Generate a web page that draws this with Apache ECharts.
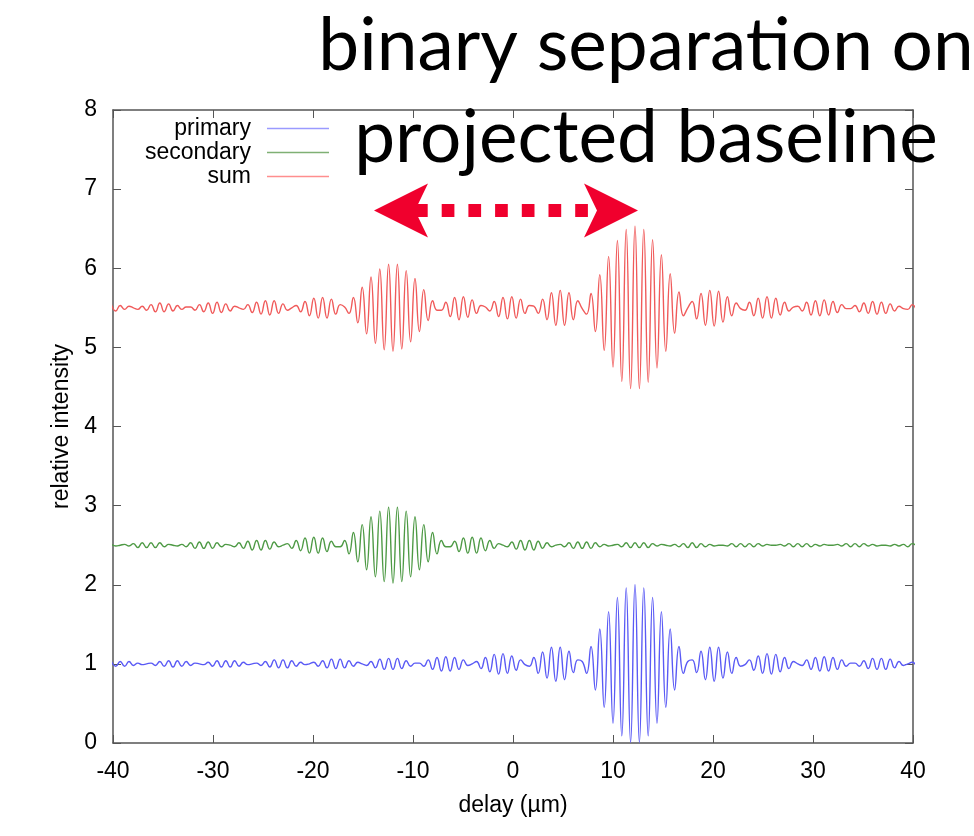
<!DOCTYPE html>
<html>
<head>
<meta charset="utf-8">
<script src="https://cdn.jsdelivr.net/npm/echarts@6/dist/echarts.min.js"></script>
<style>html,body{margin:0;padding:0;background:#fff;}#c{width:974px;height:836px;}</style>
</head>
<body>
<div id="c"></div>
<script>
// delay samples (µm), one per fringe extremum
const delays = [
-40.16,-39.72,-39.28,-38.84,-38.40,-37.96,-37.52,-37.08,-36.64,-36.20,
-35.76,-35.32,-34.88,-34.44,-34.00,-33.56,-33.12,-32.68,-32.24,-31.80,
-31.36,-30.92,-30.48,-30.04,-29.60,-29.16,-28.72,-28.28,-27.84,-27.40,
-26.96,-26.52,-26.08,-25.64,-25.20,-24.76,-24.32,-23.88,-23.44,-23.00,
-22.56,-22.12,-21.68,-21.24,-20.80,-20.36,-19.92,-19.48,-19.04,-18.60,
-18.16,-17.72,-17.28,-16.84,-16.40,-15.96,-15.52,-15.08,-14.64,-14.20,
-13.76,-13.32,-12.88,-12.44,-12.00,-11.56,-11.12,-10.68,-10.24,-9.80,
-9.36,-8.92,-8.48,-8.04,-7.60,-7.16,-6.72,-6.28,-5.84,-5.40,
-4.96,-4.52,-4.08,-3.64,-3.20,-2.76,-2.32,-1.88,-1.44,-1.00,
-0.56,-0.12,0.32,0.76,1.20,1.64,2.08,2.52,2.96,3.40,
3.84,4.28,4.72,5.16,5.60,6.04,6.48,6.92,7.36,7.80,
8.24,8.68,9.12,9.56,10.00,10.44,10.88,11.32,11.76,12.20,
12.64,13.08,13.52,13.96,14.40,14.84,15.28,15.72,16.16,16.60,
17.04,17.48,17.92,18.36,18.80,19.24,19.68,20.12,20.56,21.00,
21.44,21.88,22.32,22.76,23.20,23.64,24.08,24.52,24.96,25.40,
25.84,26.28,26.72,27.16,27.60,28.04,28.48,28.92,29.36,29.80,
30.24,30.68,31.12,31.56,32.00,32.44,32.88,33.32,33.76,34.20,
34.64,35.08,35.52,35.96,36.40,36.84,37.28,37.72,38.16,38.60,
39.04,39.48,39.92,40.36
];

const primary = [
1.03,0.97,1.03,0.97,1.03,0.98,1.01,0.99,1.00,1.01,
0.98,1.03,0.97,1.04,0.96,1.04,0.97,1.03,0.98,1.01,
1.00,0.99,1.02,0.97,1.04,0.96,1.04,0.96,1.04,0.97,
1.02,0.99,1.00,1.01,0.98,1.03,0.96,1.05,0.95,1.05,
0.95,1.04,0.97,1.02,0.99,1.00,1.02,0.97,1.04,0.95,
1.06,0.94,1.06,0.95,1.04,0.97,1.02,1.00,0.98,1.03,
0.95,1.06,0.93,1.07,0.93,1.07,0.94,1.04,0.97,1.01,
1.01,0.97,1.05,0.93,1.08,0.91,1.09,0.91,1.08,0.93,
1.05,0.98,1.00,1.03,0.94,1.08,0.90,1.12,0.87,1.13,
0.88,1.10,0.92,1.05,0.99,0.97,1.08,0.88,1.15,0.82,
1.21,0.78,1.21,0.80,1.16,0.89,1.05,1.03,0.88,1.22,
0.67,1.44,0.45,1.66,0.25,1.84,0.09,1.96,0.01,2.00,
0.01,1.96,0.09,1.84,0.25,1.66,0.45,1.44,0.67,1.22,
0.88,1.03,1.05,0.89,1.16,0.80,1.21,0.78,1.21,0.82,
1.15,0.88,1.08,0.97,0.99,1.05,0.92,1.10,0.88,1.13,
0.87,1.12,0.90,1.08,0.94,1.03,1.00,0.98,1.05,0.93,
1.08,0.91,1.09,0.91,1.08,0.93,1.05,0.97,1.01,1.01,
0.97,1.04,0.94,1.07,0.93,1.07,0.93,1.06,0.95,1.03,
0.98,1.00,1.02,0.97
];

const secondary = [
2.51,2.49,2.50,2.51,2.49,2.52,2.47,2.53,2.47,2.53,
2.47,2.53,2.48,2.51,2.50,2.49,2.51,2.48,2.53,2.46,
2.54,2.46,2.54,2.46,2.53,2.48,2.51,2.50,2.48,2.53,
2.46,2.55,2.44,2.56,2.44,2.56,2.45,2.54,2.48,2.50,
2.52,2.46,2.56,2.43,2.59,2.40,2.60,2.40,2.59,2.42,
2.55,2.48,2.48,2.56,2.39,2.66,2.29,2.76,2.19,2.86,
2.10,2.93,2.04,2.98,2.02,2.98,2.04,2.93,2.10,2.86,
2.19,2.76,2.29,2.66,2.39,2.56,2.48,2.48,2.55,2.42,
2.59,2.40,2.60,2.40,2.59,2.43,2.56,2.46,2.52,2.50,
2.48,2.54,2.45,2.56,2.44,2.56,2.44,2.55,2.46,2.53,
2.48,2.50,2.51,2.48,2.53,2.46,2.54,2.46,2.54,2.46,
2.53,2.48,2.51,2.49,2.50,2.51,2.48,2.53,2.47,2.53,
2.47,2.53,2.47,2.52,2.49,2.51,2.50,2.49,2.51,2.48,
2.52,2.47,2.53,2.47,2.52,2.48,2.51,2.49,2.50,2.50,
2.49,2.52,2.48,2.52,2.48,2.52,2.48,2.52,2.49,2.51,
2.50,2.50,2.51,2.49,2.52,2.48,2.52,2.48,2.52,2.48,
2.51,2.49,2.51,2.50,2.50,2.51,2.49,2.52,2.48,2.52,
2.48,2.52,2.49,2.51,2.49,2.50,2.50,2.49,2.51,2.49,
2.51,2.48,2.52,2.49
];

const sum = [
5.54,5.46,5.53,5.48,5.52,5.50,5.48,5.52,5.47,5.54,
5.45,5.56,5.45,5.55,5.46,5.53,5.48,5.51,5.51,5.47,
5.54,5.45,5.56,5.43,5.57,5.44,5.55,5.46,5.52,5.50,
5.48,5.54,5.44,5.57,5.42,5.59,5.41,5.59,5.43,5.55,
5.47,5.50,5.53,5.45,5.58,5.40,5.62,5.37,5.63,5.37,
5.61,5.42,5.54,5.51,5.43,5.63,5.31,5.76,5.17,5.89,
5.05,5.99,4.97,6.05,4.95,6.05,4.98,5.97,5.07,5.87,
5.20,5.73,5.34,5.59,5.47,5.47,5.57,5.39,5.63,5.35,
5.64,5.38,5.60,5.43,5.53,5.51,5.46,5.58,5.39,5.63,
5.36,5.64,5.37,5.61,5.43,5.53,5.52,5.43,5.61,5.35,
5.69,5.28,5.72,5.28,5.69,5.35,5.59,5.49,5.42,5.68,
5.20,5.92,4.96,6.15,4.75,6.35,4.57,6.49,4.48,6.53,
4.48,6.49,4.56,6.36,4.74,6.17,4.95,5.93,5.18,5.70,
5.40,5.50,5.58,5.36,5.68,5.28,5.72,5.27,5.71,5.32,
5.64,5.40,5.56,5.49,5.47,5.57,5.40,5.62,5.37,5.64,
5.37,5.62,5.41,5.57,5.46,5.51,5.52,5.46,5.57,5.41,
5.59,5.40,5.60,5.41,5.58,5.44,5.54,5.49,5.49,5.53,
5.45,5.56,5.43,5.58,5.42,5.57,5.43,5.55,5.46,5.52,
5.49,5.48,5.54,5.46
];

const seriesNames = ['primary', 'secondary', 'sum'];
const xTicks = [-40, -30, -20, -10, 0, 10, 20, 30, 40];
const yTicks = [0, 1, 2, 3, 4, 5, 6, 7, 8];
const titleLines = ['binary separation on', 'projected baseline'];
const arrowDelays = [-13.9, 12.5];
const arrowLevel = 6.73;

const FONT = 'Liberation Sans';
const FS = 23;
const AX = '#555';
const RED = '#F0002D';
const colors = ['#5a5af5', '#4e9a45', '#f05a5a'];
const legendColors = ['#9a9aff', '#7fb074', '#ff8e8e'];

function pairs(ys) { return delays.map((d, i) => [d, ys[i]]); }

const chart = echarts.init(document.getElementById('c'), null, { renderer: 'canvas' });

function xAxisDef(pos, showLabel) {
  return {
    type: 'value', position: pos, min: xTicks[0], max: xTicks[xTicks.length - 1],
    interval: xTicks[1] - xTicks[0],
    axisLine: { show: true, onZero: false, lineStyle: { color: AX, width: 1.5 } },
    axisTick: { show: true, inside: true, length: 8, lineStyle: { color: AX, width: 1 } },
    axisLabel: { show: showLabel, margin: 17, fontSize: FS, color: '#000', fontFamily: FONT },
    splitLine: { show: false },
    name: showLabel ? 'delay (µm)' : '', nameLocation: 'middle', nameGap: 51,
    nameTextStyle: { fontSize: FS, color: '#000', fontFamily: FONT }
  };
}
function yAxisDef(pos, showLabel) {
  return {
    type: 'value', position: pos, min: yTicks[0], max: yTicks[yTicks.length - 1],
    interval: yTicks[1] - yTicks[0],
    axisLine: { show: true, onZero: false, lineStyle: { color: AX, width: 1.5 } },
    axisTick: { show: true, inside: true, length: 8, lineStyle: { color: AX, width: 1 } },
    axisLabel: { show: showLabel, margin: 16, fontSize: FS, color: '#000', fontFamily: FONT },
    splitLine: { show: false },
    name: showLabel ? 'relative intensity' : '', nameLocation: 'middle', nameGap: 40,
    nameTextStyle: { fontSize: FS, color: '#000', fontFamily: FONT }
  };
}

const data = [primary, secondary, sum];

chart.setOption({
  animation: false,
  backgroundColor: '#fff',
  title: {
    text: titleLines.join('\n'),
    left: 641, top: -5, textAlign: 'center',
    textStyle: { fontFamily: 'Lato', fontSize: 73, fontWeight: 'normal', color: '#000', lineHeight: 92 },
    z: 20
  },
  grid: { left: 113, right: 61, top: 110, bottom: 93, containLabel: false },
  legend: {
    orient: 'vertical', align: 'right', right: 640, top: 112,
    itemWidth: 62, itemHeight: 14, itemGap: 1,
    textStyle: { fontSize: FS, color: '#000', fontFamily: FONT, padding: [0, 11, 0, 0] },
    data: seriesNames.map((n, i) => ({
      name: n, icon: 'path://M0,0L62,0L62,1.3L0,1.3Z',
      itemStyle: { color: legendColors[i] }
    }))
  },
  xAxis: [xAxisDef('bottom', true), xAxisDef('top', false)],
  yAxis: [yAxisDef('left', true), yAxisDef('right', false)],
  series: seriesNames.map((n, i) => ({
    name: n, type: 'line', xAxisIndex: 0, yAxisIndex: 0,
    data: pairs(data[i]), smooth: 0.5, symbol: 'none', showSymbol: false,
    sampling: null, clip: true,
    lineStyle: { color: colors[i], width: 1.4 }, itemStyle: { color: colors[i] }
  }))
});

const L = chart.convertToPixel({ xAxisIndex: 0, yAxisIndex: 0 }, [arrowDelays[0], arrowLevel]);
const R = chart.convertToPixel({ xAxisIndex: 0, yAxisIndex: 0 }, [arrowDelays[1], arrowLevel]);
const HL = 54, HW = 27, NOTCH = 41;
chart.setOption({
  graphic: [
    { type: 'line', z: 30, shape: { x1: L[0] + NOTCH, y1: L[1], x2: R[0] - NOTCH, y2: R[1] },
      style: { stroke: RED, lineWidth: 13, lineDash: [12.7, 14], lineCap: 'butt' } },
    { type: 'polygon', z: 31, shape: { points: [[L[0], L[1]], [L[0] + HL, L[1] - HW], [L[0] + NOTCH, L[1]], [L[0] + HL, L[1] + HW]] },
      style: { fill: RED } },
    { type: 'polygon', z: 31, shape: { points: [[R[0], R[1]], [R[0] - HL, R[1] - HW], [R[0] - NOTCH, R[1]], [R[0] - HL, R[1] + HW]] },
      style: { fill: RED } }
  ]
});
</script>
</body>
</html>
